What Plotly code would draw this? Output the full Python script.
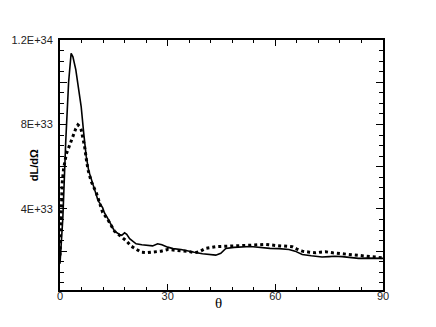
import plotly.graph_objects as go

# theta (deg) and dL/dOmega in units of 1E33
theta_solid = [0, 0.8, 1.6, 2.4, 3.1, 3.6, 4.4, 5.0, 5.9, 6.6, 7.3, 8.0, 8.7, 9.4, 10.6,
               11.9, 12.4, 13.3, 14.7, 15.2, 16.6, 17.2, 18.0, 18.6, 19.4, 20.3, 21.2,
               22.8, 24.4, 25.8, 27.2, 28.4, 30, 31.5, 33.7, 35.5, 37.4, 39.7, 41.5, 43.4,
               44.8, 46.2, 48.5, 50.8, 53, 54.5, 56.4, 58.5, 61, 63.8, 65.5, 67.5, 70, 73,
               75, 76.5, 78.6, 80.5, 83.2, 85.5, 87.5, 90]
dl_solid = [1.4, 3.6, 7.2, 10.0, 11.37, 11.2, 10.6, 9.9, 8.85, 7.6, 6.5, 5.8, 5.39, 5.0, 4.4,
            4.05, 3.81, 3.55, 3.11, 2.95, 2.79, 2.75, 2.87, 2.8, 2.59, 2.45, 2.35,
            2.3, 2.27, 2.25, 2.35, 2.3, 2.19, 2.12, 2.08, 2.0, 1.95, 1.88, 1.85, 1.81,
            1.9, 2.13, 2.18, 2.21, 2.22, 2.2, 2.16, 2.13, 2.12, 2.08, 2.0, 1.84, 1.78, 1.72,
            1.74, 1.76, 1.74, 1.7, 1.66, 1.67, 1.66, 1.66]

theta_dot = [0, 0.3, 0.6, 1.0, 1.75, 2.2, 3.0, 3.6, 4.4, 5.0, 5.5, 5.9, 6.4, 6.85, 7.3,
             7.8, 8.7, 10.1, 11.9, 13.3, 15.2, 16.6, 17.0, 18.4, 19.8, 21.2, 22.6, 24.4,
             26.3, 28.2, 30, 32, 34.6, 36, 37.4, 38.8, 40.2, 40.6, 43.4, 46, 49, 52.7, 55,
             57.3, 60, 62.5, 64.7, 66, 67.5, 69.5, 71.2, 72.5, 74, 76, 78.6, 81, 84.2, 87,
             89.7]
dl_dot = [1.8, 3.8, 5.2, 5.9, 6.6, 6.8, 7.2, 7.43, 7.8, 7.98, 7.9, 7.75, 7.4, 6.96, 6.4,
          5.86, 5.3, 4.77, 3.83, 3.5, 2.94, 2.75, 2.71, 2.5, 2.24, 2.1, 1.95, 1.93,
          1.95, 2.0, 2.08, 2.05, 2.03, 1.98, 1.92, 1.97, 2.1, 2.13, 2.21, 2.22, 2.24, 2.28, 2.3,
          2.32, 2.27, 2.24, 2.21, 2.1, 2.0, 1.95, 1.92, 1.95, 1.97, 1.92, 1.88, 1.85, 1.81, 1.76,
          1.69]

y_tickvals = [2, 4, 6, 8, 10, 12]
y_ticktext = ["", "4E+33", "", "8E+33", "", "1.2E+34"]
x_tickvals = [0, 30, 60, 90]

E = 1e33

fig = go.Figure()
fig.add_trace(go.Scatter(x=theta_solid, y=[v * E for v in dl_solid], mode="lines",
                         line=dict(color="black", width=1.6), showlegend=False,
                         hoverinfo="skip"))
fig.add_trace(go.Scatter(x=theta_dot, y=[v * E for v in dl_dot], mode="lines",
                         line=dict(color="black", width=3, dash="3px,3px"), showlegend=False,
                         hoverinfo="skip"))

axis_common = dict(showline=True, linecolor="black", linewidth=2, mirror="allticks",
                   showgrid=False, zeroline=False, ticks="inside", tickcolor="black",
                   tickfont=dict(family="Liberation Sans, Arial", size=11, color="#222"))

fig.update_xaxes(range=[0, 90], tickvals=x_tickvals, ticklen=6, tickwidth=1,
                 ticklabelstandoff=-5,
                 minor=dict(dtick=6, tick0=0, ticklen=3, ticks="inside", tickcolor="black",
                            showgrid=False),
                 **axis_common)
fig.update_yaxes(range=[0.16 * E, 12 * E], tickvals=[v * E for v in y_tickvals],
                 ticktext=y_ticktext, ticklen=7, tickwidth=1, ticklabelstandoff=3,
                 minor=dict(dtick=0.5 * E, tick0=0, ticklen=4, ticks="inside",
                            tickcolor="black", showgrid=False),
                 **axis_common)

fig.add_annotation(text="<b>dL/dΩ</b>", xref="paper", yref="paper", x=-0.08, y=0.5,
                   xanchor="center", yanchor="middle", textangle=-90, showarrow=False,
                   font=dict(family="Liberation Sans, Arial", size=11, color="black"))
fig.add_annotation(text="θ", xref="paper", yref="paper", x=0.49, y=-0.052,
                   xanchor="center", yanchor="middle", showarrow=False,
                   font=dict(family="Liberation Serif, Times New Roman", size=15, color="black"))

fig.update_layout(width=436, height=327, margin=dict(l=57, r=53, t=40, b=37),
                  plot_bgcolor="white", paper_bgcolor="white", hovermode=False)

fig.write_html("out.html", config={"displayModeBar": False, "staticPlot": True},
               post_script="document.body.style.margin='0';")
